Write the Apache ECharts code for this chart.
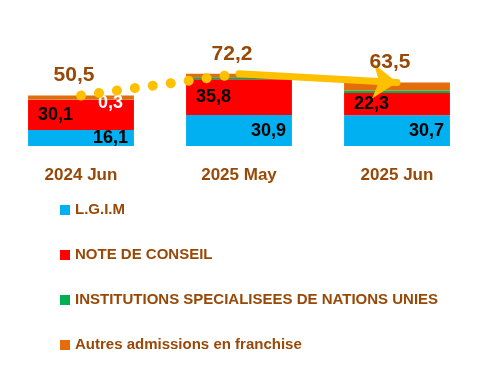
<!DOCTYPE html>
<html>
<head>
<meta charset="utf-8">
<script src="https://cdn.jsdelivr.net/npm/echarts@6/dist/echarts.min.js"></script>
<style>html,body{margin:0;padding:0;background:#fff}#c{width:482px;height:369px}</style>
</head>
<body>
<div id="c"></div>
<script>
var categories = ['2024 Jun', '2025 May', '2025 Jun'];
var lgim = [16.1, 30.9, 30.7];
var noteConseil = [30.1, 35.8, 22.3];
var institutions = [0.3, 2.0, 2.5];
var autres = [4.0, 3.5, 8.0];
var totals = [50.5, 72.2, 63.5];

var FONT = '"Liberation Sans", Arial, sans-serif';
var BROWN = '#984807';
function fmt(p) { return Number(p.value).toFixed(1).replace('.', ','); }

var chart = echarts.init(document.getElementById('c'), null, {renderer: 'canvas'});
chart.setOption({
  animation: false,
  backgroundColor: '#ffffff',
  grid: {left: 2, right: 6, top: 46, bottom: 223, containLabel: false},
  xAxis: {
    type: 'category', data: categories,
    axisLine: {show: false}, axisTick: {show: false},
    axisLabel: {margin: 21, color: BROWN, fontFamily: FONT, fontWeight: 'bold', fontSize: 17}
  },
  yAxis: {type: 'value', min: 0, max: 100, show: false, splitLine: {show: false}},
  legend: {
    orient: 'vertical', left: 55, top: 195,
    itemWidth: 10, itemHeight: 10, itemGap: 25, icon: 'rect',
    data: ['L.G.I.M', 'NOTE DE CONSEIL', 'INSTITUTIONS SPECIALISEES DE NATIONS UNIES', 'Autres admissions en franchise'],
    textStyle: {color: BROWN, fontFamily: FONT, fontWeight: 'bold', fontSize: 15, lineHeight: 20}
  },
  series: [
    {name: 'L.G.I.M', type: 'bar', stack: 't', data: lgim, barCategoryGap: '33%',
     itemStyle: {color: '#00B0F0'},
     label: {show: true, position: 'insideRight', distance: 6, formatter: fmt, color: '#000', fontFamily: FONT, fontWeight: 'bold', fontSize: 18}},
    {name: 'NOTE DE CONSEIL', type: 'bar', stack: 't', data: noteConseil,
     itemStyle: {color: '#FF0000'},
     label: {show: true, position: 'insideLeft', distance: 10, formatter: fmt, color: '#000', fontFamily: FONT, fontWeight: 'bold', fontSize: 18}},
    {name: 'INSTITUTIONS SPECIALISEES DE NATIONS UNIES', type: 'bar', stack: 't',
     data: institutions.map(function (v, i) {
       return i === 0 ? {value: v, label: {show: true, position: 'insideRight', distance: 11, offset: [0, 3], formatter: fmt, color: '#fff', fontFamily: FONT, fontWeight: 'bold', fontSize: 18}} : v;
     }),
     itemStyle: {color: '#00B050'}},
    {name: 'Autres admissions en franchise', type: 'bar', stack: 't', data: autres,
     itemStyle: {color: '#E46C0A'}},
    {name: 'trend1', type: 'line', data: [totals[0], totals[1], '-'], symbol: 'none', z: 5,
     lineStyle: {color: '#FFC000', width: 10, type: [0.1, 18], cap: 'round'}},
    {name: 'trend2', type: 'line', data: ['-', totals[1], totals[2]], symbol: 'none', z: 5,
     lineStyle: {width: 0, opacity: 0},
     markLine: {
       silent: true, symbol: ['none', 'arrow'], symbolSize: [26, 24],
       label: {show: false},
       lineStyle: {color: '#FFC000', width: 7, type: 'solid', cap: 'round'},
       data: [[{coord: [categories[1], totals[1]]}, {coord: [categories[2], totals[2]]}]]
     }},
    {name: 'totals', type: 'scatter', data: totals, symbol: 'circle', symbolSize: 1, z: 6,
     itemStyle: {color: 'rgba(0,0,0,0)', opacity: 1},
     label: {show: true, position: 'top', distance: 9, offset: [-7, 0], formatter: fmt, color: BROWN, fontFamily: FONT, fontWeight: 'bold', fontSize: 21}}
  ]
});
</script>
</body>
</html>
